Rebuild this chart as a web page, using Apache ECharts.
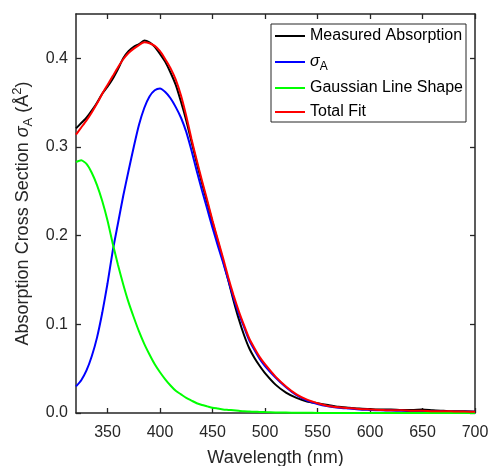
<!DOCTYPE html>
<html>
<head>
<meta charset="utf-8">
<script src="https://cdn.jsdelivr.net/npm/echarts@6/dist/echarts.min.js"></script>
<style>
html,body{margin:0;padding:0;background:#fff;}
#chart{width:493px;height:466px;}
</style>
</head>
<body>
<div id="chart"></div>
<script>
// Wavelength sampling (nm)
var wavelength = [320,325,330,335,340,345,350,355,360,365,370,375,380,385,390,395,400,405,410,415,420,425,430,435,440,445,450,455,460,465,470,475,480,485,490,495,500,510,520,530,540,550,560,570,580,590,600,610,620,630,640,650,660,670,680,690,700];

var measuredAbsorption = [0.321,0.327,0.333,0.341,0.350,0.360,0.368,0.377,0.388,0.400,0.408,0.413,0.416,0.420,0.418,0.413,0.405,0.396,0.384,0.370,0.351,0.330,0.306,0.282,0.259,0.237,0.215,0.194,0.172,0.150,0.127,0.106,0.088,0.073,0.062,0.053,0.045,0.032,0.023,0.017,0.013,0.011,0.009,0.007,0.006,0.005,0.0045,0.004,0.004,0.0035,0.0035,0.004,0.003,0.0025,0.002,0.002,0.0015];

var sigmaA = [0.030,0.037,0.048,0.064,0.085,0.113,0.146,0.183,0.214,0.245,0.273,0.300,0.325,0.344,0.357,0.364,0.366,0.362,0.355,0.345,0.333,0.317,0.296,0.273,0.251,0.230,0.209,0.189,0.170,0.150,0.130,0.112,0.097,0.082,0.071,0.061,0.053,0.040,0.029,0.020,0.014,0.010,0.0075,0.006,0.005,0.004,0.0035,0.003,0.0028,0.0025,0.0022,0.002,0.0018,0.0016,0.0015,0.0014,0.0013];

var gaussianLineShape = [0.283,0.285,0.281,0.271,0.257,0.239,0.217,0.191,0.167,0.145,0.125,0.108,0.092,0.078,0.066,0.055,0.046,0.038,0.031,0.025,0.021,0.017,0.014,0.011,0.009,0.0075,0.006,0.005,0.004,0.0035,0.003,0.0025,0.002,0.0017,0.0014,0.0012,0.001,0.0007,0.0005,0.0003,0.0002,0.0001,0,0,0,0,0,0,0,0,0,0,0,0,0,0,0];

var totalFit = [0.314,0.322,0.330,0.339,0.349,0.360,0.370,0.380,0.390,0.399,0.406,0.411,0.415,0.418,0.417,0.414,0.408,0.399,0.389,0.376,0.358,0.335,0.309,0.285,0.262,0.240,0.217,0.196,0.175,0.153,0.133,0.115,0.099,0.084,0.073,0.063,0.055,0.041,0.030,0.021,0.015,0.011,0.008,0.0065,0.0055,0.0045,0.004,0.0035,0.003,0.003,0.0025,0.0025,0.002,0.002,0.0018,0.0016,0.0015];

var xTicks = [350,400,450,500,550,600,650,700];
var yTicks = [0,0.1,0.2,0.3,0.4];

function pairs(ys){ return wavelength.map(function(x,i){ return [x, ys[i]]; }); }

var FONT = '"Liberation Sans", Arial, sans-serif';
var TXT = '#262626';

var chart = echarts.init(document.getElementById('chart'), null, {renderer:'canvas'});

function lineSeries(name, data, color){
  return {
    name: name, type: 'line', data: pairs(data), showSymbol: false, symbol: 'none',
    smooth: 0.2, lineStyle: {color: color, width: 2}, itemStyle: {color: color},
    xAxisIndex: 0, yAxisIndex: 0, animation: false, z: 3
  };
}

var option = {
  animation: false,
  backgroundColor: '#fff',
  grid: {left: 76, right: 18, top: 14, bottom: 53, containLabel: false, outerBoundsMode: 'none'},
  legend: {
    orient: 'vertical', left: 271, top: 24,
    itemWidth: 30, itemHeight: 2, icon: 'rect', itemGap: 6,
    padding: [3, 3, 1, 4],
    borderColor: TXT, borderWidth: 1, backgroundColor: '#fff',
    data: ['Measured Absorption','σA','Gaussian Line Shape','Total Fit'],
    formatter: function(n){ return n === 'σA' ? '{i|σ}{sub|A}' : n; },
    textStyle: {
      color: '#000', fontSize: 16, fontFamily: FONT, lineHeight: 18,
      rich: {
        i: {fontStyle: 'italic', fontSize: 16, fontFamily: FONT, color:'#000', lineHeight: 22, verticalAlign: 'middle'},
        sub: {fontSize: 12, fontFamily: FONT, color:'#000', lineHeight: 12, verticalAlign: 'bottom'}
      }
    },
    selectedMode: false
  },
  xAxis: [{
    type: 'value', min: 320, max: 700, position: 'bottom',
    name: 'Wavelength (nm)', nameLocation: 'middle', nameGap: 36,
    nameTextStyle: {color: TXT, fontSize: 18, fontFamily: FONT},
    axisLine: {show: true, onZero: false, lineStyle: {color: TXT, width: 1.5}},
    axisTick: {show: true, inside: true, length: 5, customValues: xTicks, lineStyle: {color: TXT, width: 1.3}},
    axisLabel: {show: true, customValues: xTicks, color: TXT, fontSize: 16, fontFamily: FONT, margin: 12},
    splitLine: {show: false}
  },{
    type: 'value', min: 320, max: 700, position: 'top',
    axisLine: {show: true, onZero: false, lineStyle: {color: TXT, width: 1.5}},
    axisTick: {show: true, inside: true, length: 5, customValues: xTicks, lineStyle: {color: TXT, width: 1.3}},
    axisLabel: {show: false},
    splitLine: {show: false}
  }],
  yAxis: [{
    type: 'value', min: 0, max: 0.45, position: 'left',
    name: 'Absorption Cross Section {i|σ}{sub|A} (Å{sup|2})',
    nameLocation: 'middle', nameGap: 38,
    nameTextStyle: {
      color: TXT, fontSize: 18, fontFamily: FONT, lineHeight: 24,
      rich: {
        i: {fontStyle: 'italic', fontSize: 18, fontFamily: FONT, color: TXT, lineHeight: 24},
        sub: {fontSize: 13, fontFamily: FONT, color: TXT, lineHeight: 12, verticalAlign: 'bottom'},
        sup: {fontSize: 13, fontFamily: FONT, color: TXT, lineHeight: 12, verticalAlign: 'top'}
      }
    },
    axisLine: {show: true, onZero: false, lineStyle: {color: TXT, width: 1.5}},
    axisTick: {show: true, inside: true, length: 5, customValues: yTicks, lineStyle: {color: TXT, width: 1.3}},
    axisLabel: {show: true, customValues: yTicks, color: TXT, fontSize: 16, fontFamily: FONT, margin: 8,
      formatter: function(v){ return v.toFixed(1); }},
    splitLine: {show: false}
  },{
    type: 'value', min: 0, max: 0.45, position: 'right',
    axisLine: {show: true, onZero: false, lineStyle: {color: TXT, width: 1.5}},
    axisTick: {show: true, inside: true, length: 5, customValues: yTicks, lineStyle: {color: TXT, width: 1.3}},
    axisLabel: {show: false},
    splitLine: {show: false}
  }],
  series: [
    lineSeries('Measured Absorption', measuredAbsorption, '#000000'),
    lineSeries('σA', sigmaA, '#0000ff'),
    lineSeries('Gaussian Line Shape', gaussianLineShape, '#00ff00'),
    lineSeries('Total Fit', totalFit, '#ff0000')
  ]
};
chart.setOption(option);
</script>
</body>
</html>
